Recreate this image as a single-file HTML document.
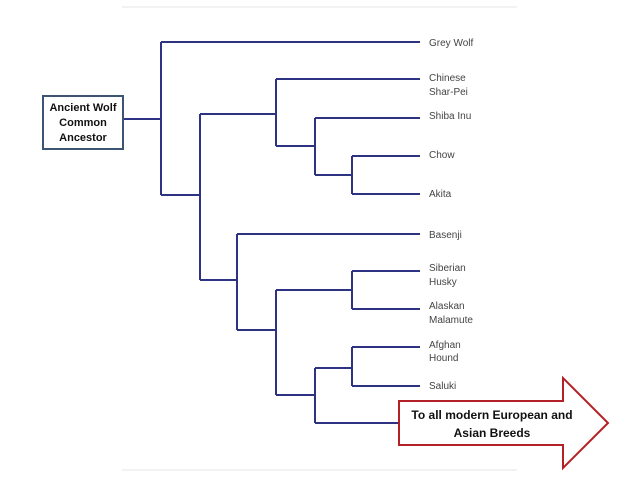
<!DOCTYPE html>
<html><head><style>body{margin:0;background:#fff}svg{display:block}</style></head><body>
<svg width="639" height="479" xmlns="http://www.w3.org/2000/svg">
<line x1="122" y1="7" x2="517" y2="7" stroke="#e6e6e6" stroke-width="1"/>
<line x1="122" y1="470" x2="517" y2="470" stroke="#e6e6e6" stroke-width="1"/>
<g stroke="#2e3283" stroke-width="2" fill="none">
<path d="M123 119H161M161 42V195M161 42H420M161 195H200M200 114V280M200 114H276M276 79V146M276 79H420M276 146H315M315 118V175M315 118H420M315 175H352M352 156V194M352 156H420M352 194H420"/>
<path d="M200 280H237M237 234V330M237 234H420M237 330H276M276 290V395M276 290H352M352 271V309M352 271H420M352 309H420M276 395H315M315 368V423M315 368H352M352 347V386M352 347H420M352 386H420M315 423H399"/>
</g>
<rect x="43" y="96" width="80" height="53" fill="#fff" stroke="#3b5572" stroke-width="2"/>
<g font-family="Liberation Sans, sans-serif" font-size="11" font-weight="bold" fill="#111" text-anchor="middle">
<text x="83" y="111">Ancient Wolf</text><text x="83" y="126">Common</text><text x="83" y="141">Ancestor</text>
</g>
<g font-family="Liberation Sans, sans-serif" font-size="10" fill="#444">
<text x="429" y="46">Grey Wolf</text>
<text x="429" y="81">Chinese</text><text x="429" y="95">Shar-Pei</text>
<text x="429" y="119">Shiba Inu</text>
<text x="429" y="158">Chow</text>
<text x="429" y="197">Akita</text>
<text x="429" y="238">Basenji</text>
<text x="429" y="271">Siberian</text><text x="429" y="285">Husky</text>
<text x="429" y="309">Alaskan</text><text x="429" y="323">Malamute</text>
<text x="429" y="348">Afghan</text><text x="429" y="361">Hound</text>
<text x="429" y="389">Saluki</text>
</g>
<path d="M399 401H563V378L608 423L563 468V445H399Z" fill="#fff" stroke="#b32025" stroke-width="2"/>
<g font-family="Liberation Sans, sans-serif" font-size="12" font-weight="bold" fill="#111" text-anchor="middle">
<text x="492" y="419">To all modern European and</text><text x="492" y="437">Asian Breeds</text>
</g>
</svg>
</body></html>
